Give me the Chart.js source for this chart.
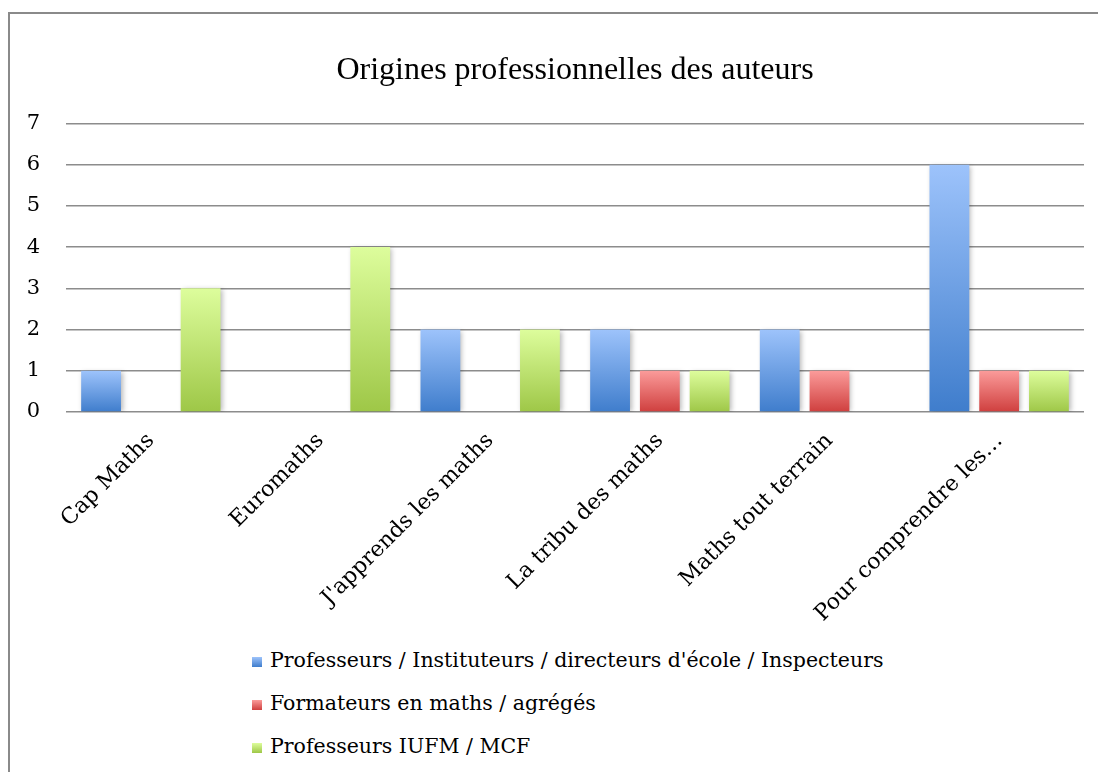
<!DOCTYPE html>
<html lang="fr">
<head>
    <meta charset="UTF-8">
    <script src="https://cdn.jsdelivr.net/npm/chart.js"></script>
    <title>Origines professionnelles des auteurs</title>
    <style>
        body {
            margin: 0;
            padding: 0;
            background: #ffffff;
            width: 1098px;
            height: 772px;
            overflow: hidden;
            position: relative;
        }

        .cadre {
            position: absolute;
            left: 8px;
            top: 12px;
            width: 1200px;
            height: 900px;
            border: 2px solid #8a8a8a;
        }

        #zone {
            position: absolute;
            left: 0;
            top: 0;
        }

        .legende {
            position: absolute;
            left: 252px;
            top: 648px;
            font-family: 'DejaVu Serif', serif;
            font-size: 20.5px;
            color: #000;
        }

        .legende div {
            height: 43px;
            display: flex;
            align-items: flex-start;
        }

        .legende span.carre {
            display: inline-block;
            width: 10px;
            height: 10px;
            margin-top: 9px;
            margin-right: 8px;
        }
    </style>
</head>
<body>
    <div class="cadre"></div>
    <canvas id="zone" width="1098" height="640"></canvas>
    <div class="legende" id="legende"></div>

    <script>
        // données du graphique
        const categories = ['Cap Maths', 'Euromaths', "J'apprends les maths", 'La tribu des maths', 'Maths tout terrain', 'Pour comprendre les…'];
        const nomsSeries = ['Professeurs / Instituteurs / directeurs d\'école / Inspecteurs', 'Formateurs en maths / agrégés', 'Professeurs IUFM / MCF'];
        const professeurs = [1, 0, 2, 2, 2, 6];
        const formateurs = [0, 0, 0, 1, 1, 1];
        const iufm = [3, 4, 2, 1, 0, 1];
        const ticksY = [0, 1, 2, 3, 4, 5, 6, 7];

        // dégradés (haut, bas)
        const couleurs = [
            ['#9dc3fb', '#3f7dcc'],
            ['#fb9b9a', '#cf3f3e'],
            ['#ddfd9c', '#9ec747']
        ];

        function degrade(paire) {
            return function (c) {
                const chart = c.chart;
                if (!chart.chartArea || c.type !== 'data') return paire[1];
                const y = chart.scales.y;
                const haut = y.getPixelForValue(c.parsed.y);
                const bas = y.getPixelForValue(0);
                if (bas - haut < 1) return paire[1];
                const g = chart.ctx.createLinearGradient(0, haut, 0, bas);
                g.addColorStop(0, paire[0]);
                g.addColorStop(1, paire[1]);
                return g;
            };
        }

        const ombre = {
            id: 'ombre',
            beforeDatasetsDraw(chart) {
                const ctx = chart.ctx;
                ctx.save();
                ctx.shadowColor = 'rgba(0, 0, 0, 0.28)';
                ctx.shadowBlur = 5;
                ctx.shadowOffsetX = 2;
                ctx.shadowOffsetY = 1;
            },
            afterDatasetsDraw(chart) {
                chart.ctx.restore();
            }
        };

        const valeurs = [professeurs, formateurs, iufm];

        new Chart(document.getElementById('zone'), {
            type: 'bar',
            data: {
                labels: categories,
                datasets: valeurs.map((v, i) => ({
                    label: nomsSeries[i],
                    data: v,
                    backgroundColor: degrade(couleurs[i]),
                    borderWidth: 0,
                    barPercentage: 0.8,
                    categoryPercentage: 0.88
                }))
            },
            options: {
                responsive: false,
                animation: false,
                layout: {
                    padding: { left: 0, right: 14, top: 0, bottom: 0 }
                },
                plugins: {
                    legend: { display: false },
                    tooltip: { enabled: false },
                    title: {
                        display: true,
                        fullSize: false,
                        text: 'Origines professionnelles des auteurs',
                        color: '#000',
                        font: { family: '"Liberation Serif", "Times New Roman", serif', size: 32, weight: 'normal' },
                        padding: { top: 51, bottom: 34 }
                    }
                },
                scales: {
                    x: {
                        grid: { display: false },
                        border: { display: false },
                        ticks: {
                            color: '#000',
                            font: { family: '"DejaVu Serif", serif', size: 22 },
                            minRotation: 45,
                            maxRotation: 45,
                            padding: 8
                        },
                        afterFit: function (scale) {
                            scale.height = 640 - 412;
                        }
                    },
                    y: {
                        min: 0,
                        max: 7,
                        afterBuildTicks: function (scale) {
                            scale.ticks = ticksY.map(v => ({ value: v }));
                        },
                        grid: {
                            color: '#8c8c8c',
                            lineWidth: 1.5,
                            drawTicks: false
                        },
                        border: { display: false },
                        ticks: {
                            color: '#000',
                            font: { family: '"DejaVu Serif", serif', size: 21 },
                            padding: 26
                        },
                        afterFit: function (scale) {
                            scale.width = 66;
                        }
                    }
                }
            },
            plugins: [ombre]
        });

        // légende verticale
        const legende = document.getElementById('legende');
        nomsSeries.forEach((nom, i) => {
            const ligne = document.createElement('div');
            const carre = document.createElement('span');
            carre.className = 'carre';
            carre.style.background = 'linear-gradient(' + couleurs[i][0] + ', ' + couleurs[i][1] + ')';
            ligne.appendChild(carre);
            ligne.appendChild(document.createTextNode(nom));
            legende.appendChild(ligne);
        });
    </script>
</body>
</html>
